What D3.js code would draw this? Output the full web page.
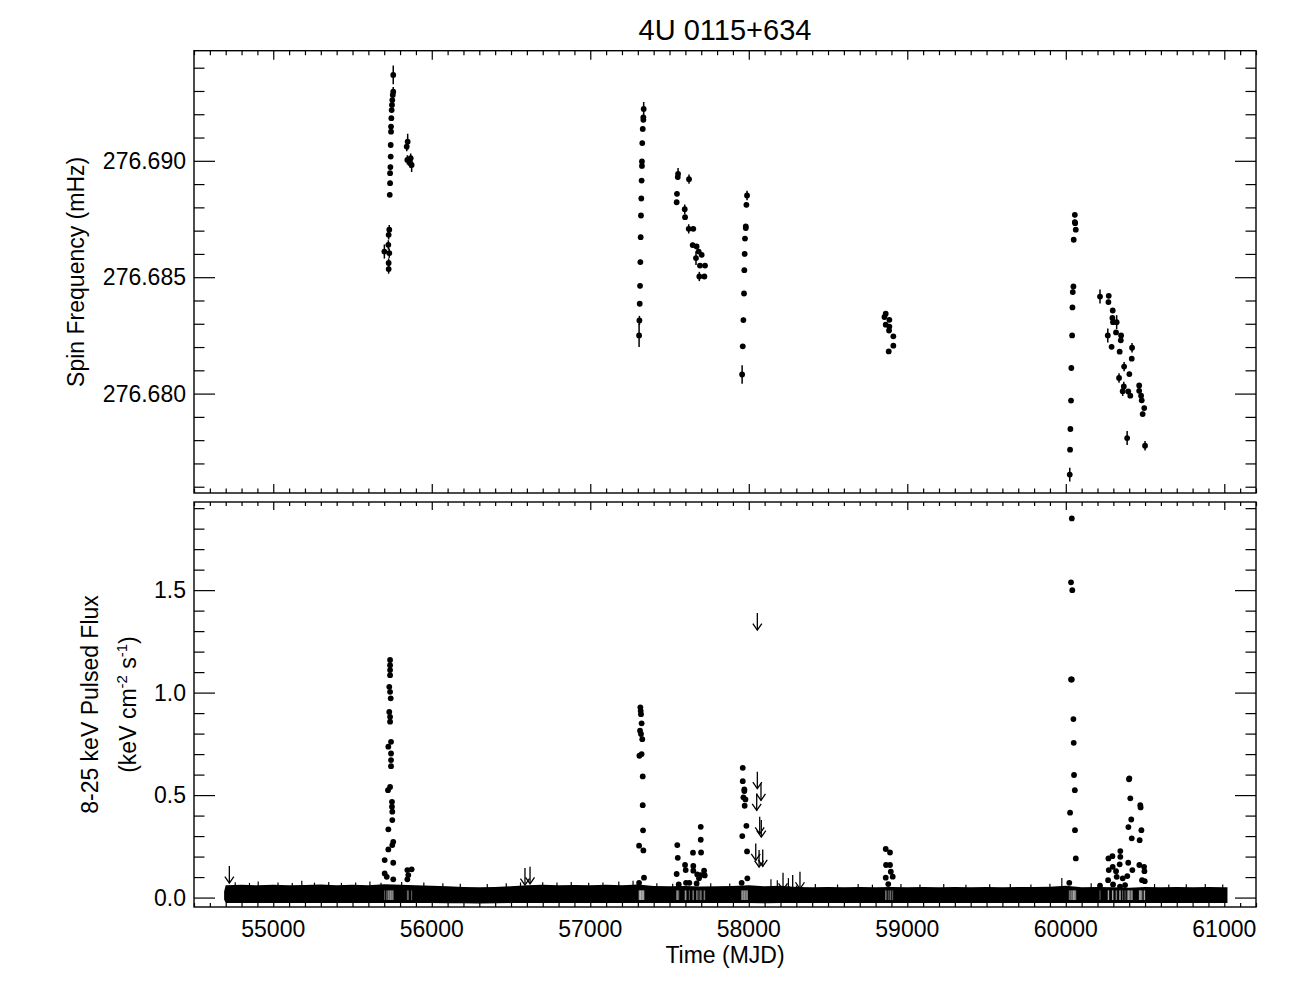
<!DOCTYPE html>
<html><head><meta charset="utf-8">
<script src="https://cdn.jsdelivr.net/npm/d3@7"></script>
<style>body{margin:0;background:#fff}svg text{font-family:"Liberation Sans",Arial,Helvetica,sans-serif;fill:#000}</style>
</head><body>
<svg id="c" width="1296" height="1008"></svg>
<script>
const chartTitle = "4U 0115+634";
const xLabel = "Time (MJD)";
const topYLabel = "Spin Frequency (mHz)";
const botYLabel1 = "8-25 keV Pulsed Flux";
const xTickValues = [55000, 56000, 57000, 58000, 59000, 60000, 61000];
const xTickLabels = ["55000", "56000", "57000", "58000", "59000", "60000", "61000"];
const topTickValues = [276.680, 276.685, 276.690];
const topTickLabels = ["276.680", "276.685", "276.690"];
const botTickValues = [0, 0.5, 1.0, 1.5];
const botTickLabels = ["0.0", "0.5", "1.0", "1.5"];

// Spin frequency (mHz) vs MJD
const freqMJD = [
 55732,55728,55726,55701,55732,55728,55728,
 55757,55757,55754,55751,55749,55747,55745,55743,55743,55741,55741,55739,55737,55737,55735,
 55848,55842,55846,55867,55873,55864,
 57337,57335,57335,57331,57328,57326,57326,57324,57322,57320,57318,57316,57314,57312,57310,57308,
 57554,57552,57623,57547,57545,57596,57598,57621,57650,57646,57671,57684,57703,57667,57692,57724,57688,57720,
 57989,57985,57981,57981,57976,57974,57972,57970,57966,57962,57958,
 58864,58856,58887,58864,58887,58885,58912,58912,58883,
 60057,60057,60059,60063,60050,60048,60044,60042,60040,60035,60033,60029,60027,60025,
 60216,60271,60269,60296,60294,60321,60298,60265,60317,60349,60347,60289,60340,60418,60416,60368,60401,60336,60366,60359,60394,60407,60463,60463,60475,60479,60495,60485,60387,60500
];
const freqVal = [
 276.68704,276.68682,276.68639,276.68610,276.68603,276.68561,276.68535,
 276.69369,276.69297,276.69283,276.69261,276.69240,276.69218,276.69183,276.69147,276.69125,276.69068,276.69018,276.68973,276.68947,276.68904,276.68854,
 276.69082,276.69061,276.69004,276.69011,276.68982,276.68990,
 276.69223,276.69187,276.69176,276.69137,276.69076,276.68997,276.68978,276.68915,276.68838,276.68765,276.68672,276.68565,276.68463,276.68386,276.68314,276.68250,
 276.68944,276.68930,276.68921,276.68858,276.68822,276.68792,276.68758,276.68708,276.68708,276.68638,276.68632,276.68610,276.68596,276.68582,276.68550,276.68550,276.68503,276.68503,
 276.68851,276.68811,276.68718,276.68711,276.68666,276.68600,276.68530,276.68430,276.68316,276.68203,276.68082,
 276.68343,276.68329,276.68317,276.68296,276.68288,276.68271,276.68246,276.68206,276.68181,
 276.68768,276.68737,276.68732,276.68704,276.68661,276.68460,276.68436,276.68370,276.68250,276.68110,276.67970,276.67848,276.67759,276.67652,
 276.68417,276.68420,276.68393,276.68357,276.68325,276.68307,276.68307,276.68250,276.68263,276.68250,276.68229,276.68201,276.68180,276.68197,276.68150,276.68116,276.68084,276.68067,276.68031,276.68010,276.68009,276.67991,276.68035,276.68012,276.67991,276.67971,276.67938,276.67912,276.67809,276.67776
];
const freqErr = [
 0.0002,0.0002,0.0002,0.0003,0.0002,0.0002,0.0002,
 0.0004,0.0002,0.0002,0.0001,0.0001,0.0001,0.0001,0.0001,0.0001,0.0001,0.0001,0.0001,0.0001,0.0001,0.0001,
 0.00034,0.0002,0.0002,0.0002,0.0003,0.0002,
 0.0003,0.0001,0.0001,0.0001,0.0001,0.0001,0.0001,0.0001,0.0001,0.0001,0.0001,0.0001,0.0001,0.0001,0.0002,0.0005,
 0.00025,0.0001,0.0002,0.0001,0.0001,0.0002,0.0001,0.0002,0.0001,0.0001,0.0001,0.0001,0.0001,0.0003,0.0001,0.0001,0.0002,0.0001,
 0.0002,0.0001,0.0001,0.0001,0.0001,0.0001,0.0001,0.0001,0.0001,0.0001,0.0004,
 0.0001,0.0001,0.0001,0.0001,0.0001,0.0001,0.0001,0.0001,0.0001,
 0.0001,0.0001,0.0001,0.0001,0.0001,0.0001,0.0001,0.0001,0.0001,0.0001,0.0001,0.0001,0.0001,0.0003,
 0.0003,0.0001,0.0001,0.0001,0.0001,0.0003,0.0001,0.0003,0.0001,0.0001,0.0001,0.0001,0.0001,0.0002,0.0001,0.0002,0.0001,0.0002,0.0002,0.0002,0.0001,0.0001,0.0001,0.0001,0.0001,0.0001,0.0001,0.0001,0.0003,0.0002
];

// Pulsed flux (keV cm^-2 s^-1) detections
const fluxMJD = [
 55737,55737,55737,55737,55732,55737,55741,55732,55737,55737,55743,55726,55743,55743,55743,55737,55724,55749,55749,55751,55751,55726,55757,55751,55726,55703,55757,55703,55716,55757,55846,55873,55852,55846,
 57316,57318,57320,57324,57314,57320,57328,57324,57310,57331,57331,57333,57308,57335,57339,57308,
 57549,57552,57545,57558,57598,57602,57604,57625,57648,57650,57650,57675,57671,57697,57697,57699,57697,57718,57722,57686,
 57962,57962,57972,57972,57966,57979,57974,57985,57959,57989,57991,57955,
 58864,58891,58866,58891,58896,58864,58908,58880,
 60038,60033,60041,60033,60038,60048,60050,60052,60057,60027,60058,60063,60022,
 60399,60401,60407,60470,60472,60413,60395,60477,60416,60466,60344,60294,60269,60344,60394,60296,60340,60271,60317,60420,60464,60494,60496,60267,60321,60359,60388,60298,60374,60342,60216,60481,60498
];
const fluxVal = [
 1.159,1.134,1.110,1.085,1.028,1.004,0.972,0.906,0.882,0.858,0.760,0.736,0.703,0.671,0.641,0.540,0.524,0.467,0.443,0.419,0.378,0.333,0.272,0.256,0.235,0.183,0.170,0.118,0.101,0.089,0.134,0.138,0.110,0.089,
 0.928,0.911,0.895,0.850,0.814,0.798,0.773,0.700,0.692,0.591,0.451,0.328,0.253,0.230,0.097,0.072,
 0.256,0.194,0.115,0.064,0.159,0.134,0.072,0.072,0.219,0.154,0.131,0.113,0.069,0.345,0.282,0.220,0.110,0.131,0.108,0.094,
 0.633,0.568,0.528,0.520,0.489,0.479,0.448,0.350,0.300,0.225,0.094,0.072,
 0.237,0.220,0.159,0.159,0.126,0.097,0.102,0.066,
 1.850,1.538,1.500,1.064,1.064,0.871,0.755,0.598,0.524,0.414,0.329,0.191,0.072,
 0.577,0.582,0.484,0.451,0.440,0.381,0.344,0.329,0.289,0.280,0.227,0.202,0.191,0.199,0.170,0.150,0.162,0.134,0.129,0.134,0.159,0.150,0.129,0.085,0.101,0.094,0.105,0.064,0.061,0.053,0.058,0.085,0.080
];

// Upper limits (arrows)
const ulMJD = [54723, 56588, 56620, 58054, 58054, 58077, 58050, 58069, 58079, 58044, 58065, 58088, 58216, 58277, 58323];
const ulVal = [0.154, 0.144, 0.150, 1.388, 0.614, 0.557, 0.508, 0.394, 0.378, 0.264, 0.232, 0.235, 0.121, 0.110, 0.126];

// Dense band of daily non-detections (top and bottom of error bars)
const bandMJD = [54690,54700,54800,54900,55000,55100,55200,55300,55400,55500,55600,55700,55800,55900,56000,56100,56200,56300,56400,56500,56600,56700,56800,56900,57000,57100,57200,57300,57400,57500,57600,57700,57800,57900,58000,58100,58200,58300,58400,58500,58600,58700,58800,58900,59000,59100,59200,59300,59400,59500,59600,59700,59800,59900,60000,60100,60200,60300,60400,60500,60600,60700,60800,60900,61000,61020];
const bandHi = [0.030,0.060,0.062,0.060,0.063,0.060,0.061,0.064,0.060,0.062,0.060,0.065,0.062,0.060,0.058,0.055,0.052,0.050,0.052,0.055,0.060,0.062,0.060,0.061,0.060,0.062,0.060,0.064,0.056,0.055,0.056,0.054,0.055,0.056,0.060,0.055,0.058,0.052,0.050,0.051,0.050,0.052,0.050,0.052,0.050,0.051,0.050,0.052,0.050,0.051,0.050,0.052,0.051,0.053,0.058,0.050,0.052,0.050,0.048,0.052,0.050,0.051,0.050,0.052,0.050,0.050];
const bandLo = [-0.010,-0.026,-0.027,-0.026,-0.027,-0.026,-0.027,-0.026,-0.027,-0.026,-0.027,-0.026,-0.027,-0.026,-0.027,-0.028,-0.028,-0.029,-0.028,-0.027,-0.026,-0.027,-0.026,-0.027,-0.026,-0.027,-0.026,-0.027,-0.026,-0.027,-0.026,-0.027,-0.026,-0.027,-0.026,-0.028,-0.027,-0.026,-0.027,-0.026,-0.027,-0.026,-0.027,-0.026,-0.027,-0.026,-0.027,-0.026,-0.027,-0.026,-0.027,-0.026,-0.027,-0.026,-0.027,-0.026,-0.027,-0.026,-0.027,-0.026,-0.027,-0.026,-0.027,-0.026,-0.027,-0.026];
// taller individual error bars sticking out of the band
const spikeMJD = [54760,54850,54905,55030,55120,55180,55260,55350,55430,55520,55610,55680,55810,55950,56070,56180,56350,56470,56560,56700,56790,56880,56990,57080,57180,57270,57420,57520,57760,57880,58140,58180,58250,58420,58560,58690,58780,58960,59080,59230,59370,59520,59650,59780,59900,59975,60160,60560,60650,60760,60880,60990];
const spikeVal = [0.075,0.072,0.078,0.074,0.071,0.082,0.073,0.076,0.072,0.074,0.078,0.072,0.076,0.073,0.070,0.068,0.066,0.070,0.074,0.075,0.073,0.076,0.072,0.074,0.078,0.082,0.070,0.068,0.070,0.069,0.090,0.085,0.095,0.066,0.064,0.066,0.063,0.066,0.064,0.066,0.063,0.065,0.066,0.064,0.068,0.095,0.070,0.066,0.064,0.065,0.066,0.064];

const svg = d3.select("#c");
const L = 194, R = 1256;
const topT = 50.7, topB = 493, botT = 502, botB = 907;

const x = d3.scaleLinear().domain([54500, 61200]).range([L, R]);
const yTop = d3.scaleLinear().domain([276.67573, 276.69473]).range([topB, topT]);
const yBot = d3.scaleLinear().domain([-0.046, 1.93]).range([botB, botT]);

const FS = 23;
const DOT = 2.9;

const defs = svg.append("defs");
defs.append("clipPath").attr("id", "clipTop").append("rect").attr("x", L).attr("y", topT).attr("width", R - L).attr("height", topB - topT);
defs.append("clipPath").attr("id", "clipBot").append("rect").attr("x", L).attr("y", botT).attr("width", R - L).attr("height", botB - botT);

// ---- bottom band
const bandData = bandMJD.map((m, i) => ({m, hi: bandHi[i], lo: bandLo[i]}));
const gB = svg.append("g").attr("clip-path", "url(#clipBot)");
gB.append("path").datum(bandData)
  .attr("d", d3.area().x(d => x(d.m)).y0(d => yBot(d.lo)).y1(d => yBot(d.hi)).curve(d3.curveLinear))
  .attr("fill", "#000");
const spikeData = spikeMJD.map((m, i) => ({m, v: spikeVal[i]}));
gB.selectAll("line.sp").data(spikeData).join("line").attr("class", "sp")
  .attr("x1", d => x(d.m)).attr("x2", d => x(d.m))
  .attr("y1", d => yBot(d.v)).attr("y2", yBot(0.0))
  .attr("stroke", "#000").attr("stroke-width", 1.2);

// flux detections leave thin gaps in the non-detection band
const fluxData = fluxMJD.map((m, i) => ({m, v: fluxVal[i]}));
const gapMJD = Array.from(new Set(fluxMJD.filter(m => true)));
gB.selectAll("line.gap").data(gapMJD).join("line").attr("class", "gap")
  .attr("x1", d => x(d)).attr("x2", d => x(d))
  .attr("y1", yBot(0.035)).attr("y2", yBot(-0.012))
  .attr("stroke", "#fff").attr("stroke-width", 0.5).attr("stroke-opacity", 0.8);

// upper-limit arrows
const ulData = ulMJD.map((m, i) => ({m, v: ulVal[i]}));
const arr = gB.selectAll("g.ul").data(ulData).join("g").attr("class", "ul")
  .attr("transform", d => `translate(${x(d.m)},${yBot(d.v)})`);
arr.append("line").attr("x1", 0).attr("x2", 0).attr("y1", 0).attr("y2", 17).attr("stroke", "#000").attr("stroke-width", 1.3);
arr.append("path").attr("d", "M-4.5,10.5 L0,17 L4.5,10.5").attr("fill", "none").attr("stroke", "#000").attr("stroke-width", 1.3);

// flux points
gB.selectAll("circle.f").data(fluxData).join("circle").attr("class", "f")
  .attr("cx", d => x(d.m)).attr("cy", d => yBot(d.v)).attr("r", DOT).attr("fill", "#000");

// ---- top panel points
const freqData = freqMJD.map((m, i) => ({m, v: freqVal[i], e: freqErr[i]}));
const gT = svg.append("g").attr("clip-path", "url(#clipTop)");
gT.selectAll("line.e").data(freqData).join("line").attr("class", "e")
  .attr("x1", d => x(d.m)).attr("x2", d => x(d.m))
  .attr("y1", d => yTop(d.v - d.e)).attr("y2", d => yTop(d.v + d.e))
  .attr("stroke", "#000").attr("stroke-width", 1.5);
gT.selectAll("circle.p").data(freqData).join("circle").attr("class", "p")
  .attr("cx", d => x(d.m)).attr("cy", d => yTop(d.v)).attr("r", DOT).attr("fill", "#000");

// ---- frames & ticks
function frame(t, b) {
  svg.append("rect").attr("x", L).attr("y", t).attr("width", R - L).attr("height", b - t)
    .attr("fill", "none").attr("stroke", "#000").attr("stroke-width", 1.4);
}
frame(topT, topB);
frame(botT, botB);

function ticksY(scale, major, minor, tl) {
  const list = [
    [d3.axisLeft(scale).tickValues(major).tickSize(-tl), L],
    [d3.axisLeft(scale).tickValues(minor).tickSize(-tl / 2), L],
    [d3.axisRight(scale).tickValues(major).tickSize(-tl), R],
    [d3.axisRight(scale).tickValues(minor).tickSize(-tl / 2), R]
  ];
  list.forEach(([a, px]) => {
    const g = svg.append("g").attr("transform", `translate(${px},0)`).call(a.tickFormat(""));
    g.select(".domain").remove();
    g.selectAll("line").attr("stroke-width", 1.2);
  });
}
function ticksX(t, b, tl) {
  const maj = xTickValues;
  const mn = d3.range(54500, 61201, 100).filter(v => v % 1000 !== 0);
  const list = [
    [d3.axisBottom(x).tickValues(maj).tickSize(-tl), b],
    [d3.axisBottom(x).tickValues(mn).tickSize(-tl / 2), b],
    [d3.axisTop(x).tickValues(maj).tickSize(-tl), t],
    [d3.axisTop(x).tickValues(mn).tickSize(-tl / 2), t]
  ];
  list.forEach(([a, py]) => {
    const g = svg.append("g").attr("transform", `translate(0,${py})`).call(a.tickFormat(""));
    g.select(".domain").remove();
    g.selectAll("line").attr("stroke-width", 1.2);
  });
}
const topMinor = d3.range(276.676, 276.6946, 0.001).map(v => +v.toFixed(3)).filter(v => !topTickValues.some(t => Math.abs(t - v) < 1e-7));
ticksY(yTop, topTickValues, topMinor, 21);
ticksX(topT, topB, 9);
const botMinor = d3.range(0, 1.95, 0.1).map(v => +v.toFixed(1)).filter(v => !botTickValues.some(t => Math.abs(t - v) < 1e-7));
ticksY(yBot, botTickValues, botMinor, 21);
ticksX(botT, botB, 8);

// tick labels
svg.selectAll("text.ty").data(topTickValues).join("text").attr("class", "ty")
  .attr("x", L - 8).attr("y", d => yTop(d)).attr("dy", "0.36em").attr("text-anchor", "end")
  .attr("font-size", FS).text((d, i) => topTickLabels[i]);
svg.selectAll("text.by").data(botTickValues).join("text").attr("class", "by")
  .attr("x", L - 8).attr("y", d => yBot(d)).attr("dy", "0.36em").attr("text-anchor", "end")
  .attr("font-size", FS).text((d, i) => botTickLabels[i]);
svg.selectAll("text.tx").data(xTickValues).join("text").attr("class", "tx")
  .attr("x", d => x(d)).attr("y", 937).attr("text-anchor", "middle")
  .attr("font-size", FS).text((d, i) => xTickLabels[i]);

// titles
svg.append("text").attr("x", (L + R) / 2).attr("y", 40).attr("text-anchor", "middle")
  .attr("font-size", 29).text(chartTitle);
svg.append("text").attr("x", (L + R) / 2).attr("y", 963).attr("text-anchor", "middle")
  .attr("font-size", FS).text(xLabel);
svg.append("text").attr("transform", `translate(84,${(topT + topB) / 2}) rotate(-90)`)
  .attr("text-anchor", "middle").attr("font-size", FS).text(topYLabel);
svg.append("text").attr("transform", `translate(98,${(botT + botB) / 2}) rotate(-90)`)
  .attr("text-anchor", "middle").attr("font-size", FS).text(botYLabel1);
const t2 = svg.append("text").attr("transform", `translate(136,${(botT + botB) / 2}) rotate(-90)`)
  .attr("text-anchor", "middle").attr("font-size", FS);
t2.append("tspan").text("(keV cm");
t2.append("tspan").attr("font-size", 15).attr("dy", -9).text("-2");
t2.append("tspan").attr("dy", 9).text(" s");
t2.append("tspan").attr("font-size", 15).attr("dy", -9).text("-1");
t2.append("tspan").attr("dy", 9).text(")");
</script>
</body></html>
